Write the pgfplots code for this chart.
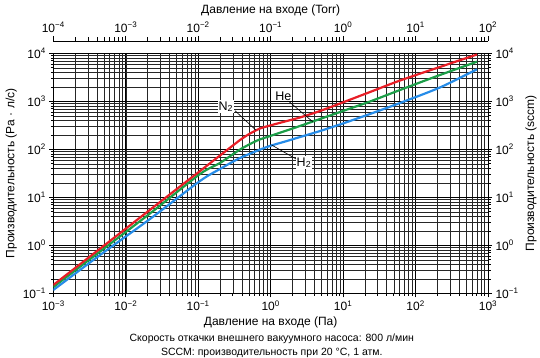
\documentclass[border=0pt]{standalone}
\usepackage{fontspec}
\setmainfont{Liberation Sans}
\usepackage{pgfplots}
\pgfplotsset{compat=1.18}

\definecolor{cN}{RGB}{232,30,38}
\definecolor{cHe}{RGB}{28,158,72}
\definecolor{cH}{RGB}{38,140,232}

\pgfplotsset{
  gasline/.style={line width=2.2pt, smooth, tension=0.45, no marks},
  tlab/.style={font=\fontsize{12}{14}\selectfont},
}

\begin{document}
\begin{tikzpicture}
\useasboundingbox (-53.3pt,-64.7pt) rectangle (486.7pt,293.3pt);

% main chart: throughput vs inlet pressure (Pa)
\begin{axis}[
  at={(0,0)}, anchor=south west, scale only axis,
  width=434.7pt, height=240pt,
  xmode=log, ymode=log,
  xmin=1e-3, xmax=1e3, ymin=1e-1, ymax=1e4,
  xtick={1e-3,1e-2,1e-1,1,1e1,1e2,1e3},
  xticklabels={10\textsuperscript{−3},10\textsuperscript{−2},10\textsuperscript{−1},10\textsuperscript{0},10\textsuperscript{1},10\textsuperscript{2},10\textsuperscript{3}},
  ytick={1e-1,1,1e1,1e2,1e3,1e4},
  yticklabels={10\textsuperscript{−1},10\textsuperscript{0},10\textsuperscript{1},10\textsuperscript{2},10\textsuperscript{3},10\textsuperscript{4}},
  tick pos=left, tick align=outside,
  major tick length=4pt, minor tick length=2.5pt,
  tick style={black, line width=0.6pt},
  ticklabel style={tlab},
  grid=both,
  major grid style={black, line width=0.75pt},
  minor grid style={black!85, line width=0.45pt},
  axis line style={black, line width=0.8pt},
  xlabel={Давление на входе (Па)},
  ylabel={Производительность (Pa · л/с)},
  label style={font=\fontsize{12}{14}\selectfont},
  xlabel style={yshift=1pt},
  ylabel style={yshift=-1pt},
]
\addplot[gasline, cH] coordinates {
  (1e-3,0.117) (0.00442,0.628) (0.0216,3.53) (0.106,21.9) (0.200,38.9)
  (0.378,65.9) (0.891,112) (1.58,145) (2.54,180) (4.80,240) (9.06,329)
  (23.5,544) (61.0,922) (217,1940) (705,4640)
};
\addplot[gasline, cHe] coordinates {
  (1e-3,0.135) (0.00442,0.743) (0.0216,4.60) (0.106,30.6) (0.200,51.8)
  (0.378,99) (0.649,152) (0.98,189) (1.58,240) (2.54,306) (4.80,428)
  (9.06,598) (23.5,990) (61.0,1720) (217,3530) (705,6680)
};
\addplot[gasline, cN] coordinates {
  (1e-3,0.149) (0.00442,0.849) (0.0216,5.49) (0.106,35.3) (0.200,74.3)
  (0.378,156) (0.519,213) (0.713,271) (0.98,313) (1.58,380) (2.54,460)
  (4.80,628) (9.06,900) (23.5,1560) (61.0,2710) (217,5190) (705,9440)
};
% gas labels with leader lines
\draw[black, line width=0.6pt] (axis cs:0.322,637) -- (axis cs:0.628,250);
\draw[black, line width=0.6pt] (axis cs:1.81,977) -- (axis cs:3.80,376);
\draw[black, line width=0.6pt] (axis cs:2.29,61.7) -- (axis cs:1.03,123);
\node[fill=white, inner sep=1pt, font=\fontsize{12.5}{14}\selectfont] at (axis cs:0.24,772) {N\textsubscript{2}};
\node[fill=white, inner sep=1pt, font=\fontsize{12.5}{14}\selectfont] at (axis cs:1.50,1290) {He};
\node[fill=white, inner sep=1pt, font=\fontsize{12.5}{14}\selectfont] at (axis cs:2.88,52.6) {H\textsubscript{2}};
\end{axis}

% right scale in sccm
\begin{axis}[
  at={(0,0)}, anchor=south west, scale only axis,
  width=434.7pt, height=240pt,
  ymode=log, xmin=0, xmax=1, ymin=1e-1, ymax=1e4,
  axis x line=none, axis y line*=right,
  ytick={1e-1,1,1e1,1e2,1e3,1e4},
  yticklabels={10\textsuperscript{−1},10\textsuperscript{0},10\textsuperscript{1},10\textsuperscript{2},10\textsuperscript{3},10\textsuperscript{4}},
  tick align=outside, major tick length=4pt, minor tick length=2.5pt,
  tick style={black, line width=0.6pt},
  axis line style={black, line width=0.8pt},
  ticklabel style={tlab},
  ylabel={Производительность (sccm)},
  ylabel style={font=\fontsize{12}{14}\selectfont},
]
\end{axis}

% top scale in Torr
\begin{axis}[
  at={(0,240pt)}, anchor=south west, scale only axis,
  width=434.7pt, height=12.3pt,
  xmode=log, xmin=1e-4, xmax=1e2, ymin=0, ymax=1,
  axis y line=none, axis x line*=top,
  xtick={1e-4,1e-3,1e-2,1e-1,1,1e1,1e2},
  xticklabels={10\textsuperscript{−4},10\textsuperscript{−3},10\textsuperscript{−2},10\textsuperscript{−1},10\textsuperscript{0},10\textsuperscript{1},10\textsuperscript{2}},
  tick align=outside, major tick length=5pt, minor tick length=3.5pt,
  tick style={black, line width=0.6pt},
  axis line style={black, line width=0.8pt},
  ticklabel style={tlab},
  xlabel={Давление на входе (Torr)},
  xlabel style={font=\fontsize{12}{14}\selectfont},
]
\end{axis}

\node[font=\fontsize{10.5}{12}\selectfont] at (218.5pt,-45pt) {Скорость откачки внешнего вакуумного насоса: 800 л/мин};
\node[font=\fontsize{10.5}{12}\selectfont] at (218.5pt,-59.5pt) {SCCM: производительность при 20 °C, 1 атм.};
\end{tikzpicture}
\end{document}
